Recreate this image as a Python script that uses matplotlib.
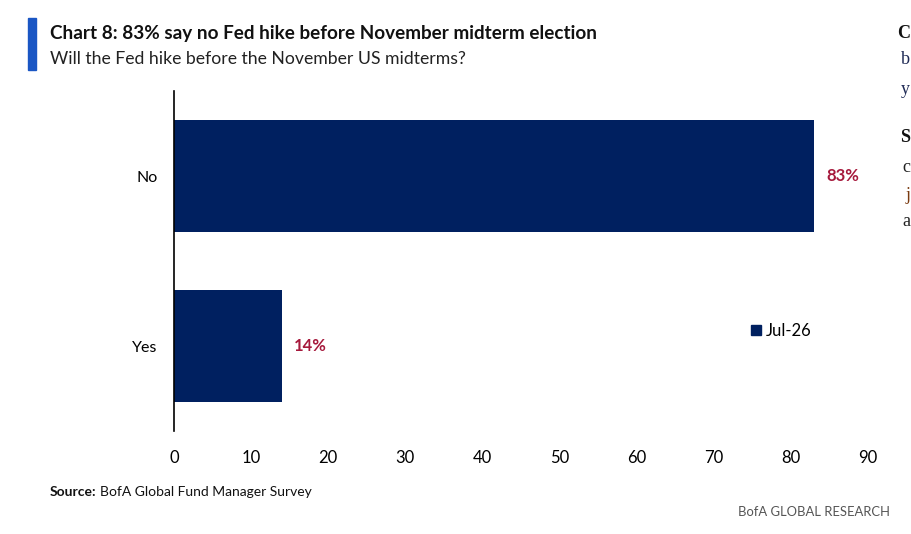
import matplotlib
matplotlib.use("Agg")
import matplotlib.pyplot as plt
from matplotlib.patches import Rectangle, Patch

categories = ["Yes", "No"]
values = [14, 83]
labels = ["14%", "83%"]
series_name = "Jul-26"
xticks = [0, 10, 20, 30, 40, 50, 60, 70, 80, 90]

BAR = "#002060"
RED = "#a6193c"
FONT = ["Lato", "DejaVu Sans"]

plt.rcParams["font.family"] = FONT

fig = plt.figure(figsize=(9.12, 5.34), dpi=100)
W, H = 912, 534
ax = fig.add_axes([174 / W, 1 - 431 / H, (868 - 174) / W, (431 - 91) / H])

ax.barh(range(len(categories)), values, height=0.66, color=BAR)
ax.set_yticks(range(len(categories)))
ax.set_yticklabels(categories, fontsize=11.5)
ax.set_ylim(-0.5, 1.5)
ax.set_xlim(0, 90)
ax.set_xticks(xticks)
ax.set_xticklabels([str(t) for t in xticks], fontsize=12)
ax.tick_params(axis="both", length=0)
ax.tick_params(axis="x", pad=14)
ax.tick_params(axis="y", pad=12)
for s in ["top", "right", "bottom"]:
    ax.spines[s].set_visible(False)
ax.spines["left"].set_color("black")
ax.spines["left"].set_linewidth(1.2)

for i, (v, lab) in enumerate(zip(values, labels)):
    ax.text(v + 1.6, i, lab, va="center", ha="left", color=RED,
            fontsize=12, fontweight="bold")

ax.legend(handles=[Patch(color=BAR, label=series_name)],
          loc="center left", bbox_to_anchor=((744 - 174) / 694, (431 - 331) / 340),
          frameon=False, fontsize=12, handlelength=0.6, handleheight=0.6,
          handletextpad=0.3, borderaxespad=0)

# Title block
fig.patches.append(Rectangle((28 / W, 1 - 70 / H), 8 / W, 52 / H,
                             transform=fig.transFigure, color="#1a56c4"))
fig.text(50 / W, 1 - 34 / H, "Chart 8: 83% say no Fed hike before November midterm election",
         fontsize=13.6, fontweight="bold", va="center", ha="left", color="#111111")
fig.text(50 / W, 1 - 59 / H, "Will the Fed hike before the November US midterms?",
         fontsize=12.7, va="center", ha="left", color="#222222")

# Footer
fig.text(50 / W, 1 - 492 / H, "Source:", fontsize=10, fontweight="bold",
         va="center", ha="left", color="#111111")
fig.text(100 / W, 1 - 492 / H, "BofA Global Fund Manager Survey", fontsize=10,
         va="center", ha="left", color="#111111")
fig.text(890 / W, 1 - 512 / H, "BofA GLOBAL RESEARCH", fontsize=9.4,
         va="center", ha="right", color="#555555")

# Neighbouring-column text fragments at the right edge
frags = [("C", 33, "#111111", "bold"), ("b", 60, "#1f2a55", "normal"),
         ("y", 90, "#1f2a55", "normal"), ("S", 137, "#111111", "bold"),
         ("c", 168, "#222222", "normal"), ("j", 196, "#7a3b10", "normal"),
         ("a", 222, "#222222", "normal")]
for ch, y, col, w in frags:
    fig.text(910 / W, 1 - y / H, ch, fontsize=13, fontweight=w, color=col,
             va="center", ha="right", family=["Liberation Serif", "DejaVu Serif"])

fig.savefig("out.png", dpi=100)
